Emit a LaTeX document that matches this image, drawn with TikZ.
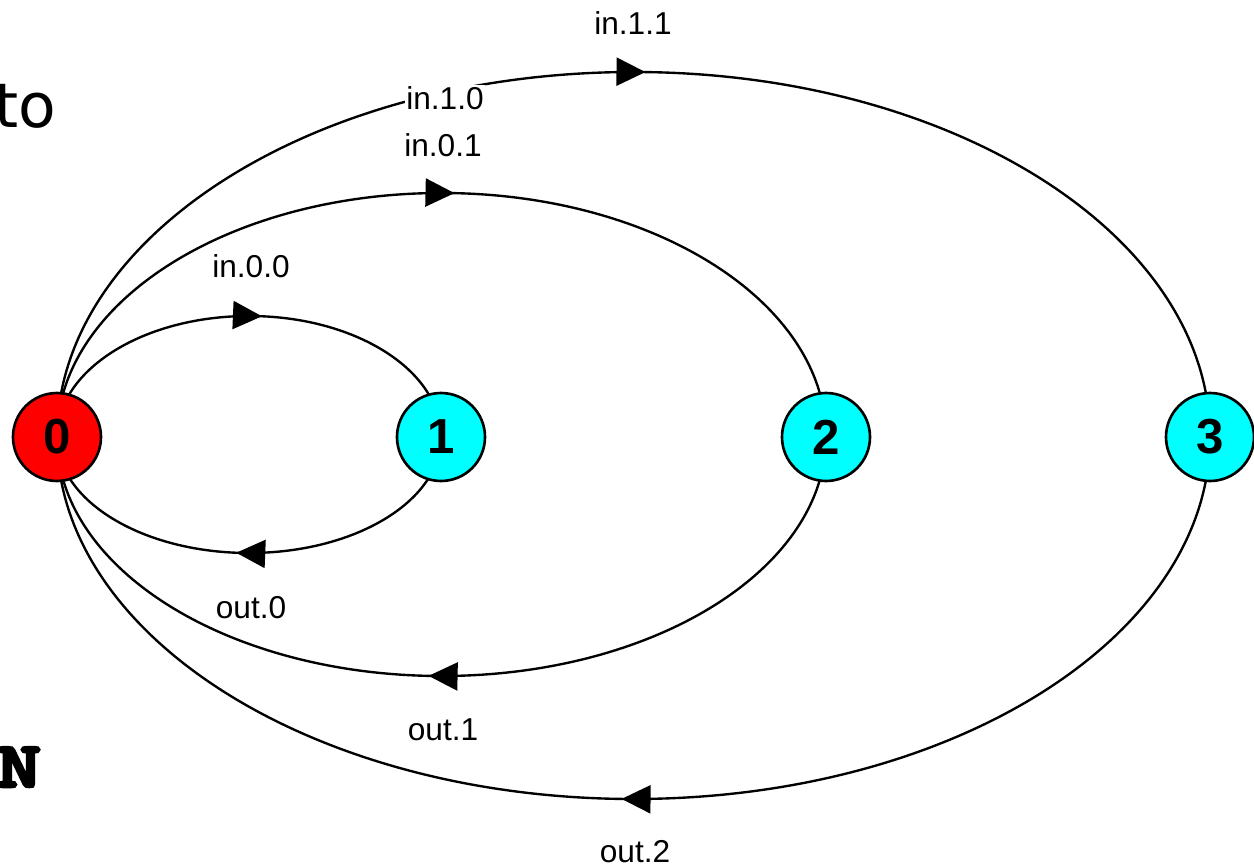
\documentclass[tikz,border=0pt]{standalone}
\usepackage{fontspec}
\setmainfont{Liberation Sans}
\newfontfamily\dvsans{DejaVu Sans}
\newfontfamily\lmttbold{lmmonolt10-bold.otf}[FakeBold=4]
\usetikzlibrary{arrows.meta,decorations.markings,backgrounds}
\definecolor{nodecyan}{RGB}{0,255,255}
\definecolor{nodered}{RGB}{255,0,0}
\begin{document}
\begin{tikzpicture}[
  vertex/.style={circle, draw=black, line width=1.5pt, minimum size=1.76cm, inner sep=0pt, font=\fontsize{28}{30}\selectfont\bfseries},
  link/.style={line width=1.35pt},
  lab/.style={font=\fontsize{18}{20}\selectfont, inner sep=1pt, anchor=base},
  fwd/.style={postaction={decorate}, decoration={markings, mark=at position #1 with {\arrow{Triangle[length=0.58cm,width=0.56cm]}}}},
]
\useasboundingbox (0,0) rectangle (25.08,17.28);
\node[vertex, fill=nodered] (n0) at (1.14,8.54) {0};
\node[vertex, fill=nodecyan] (n1) at (8.82,8.54) {1};
\node[vertex, fill=nodecyan] (n2) at (16.52,8.54) {2};
\node[vertex, fill=nodecyan] (n3) at (24.20,8.54) {3};
\begin{pgfonlayer}{background}
\draw[link, fwd=0.526] (n0.center) arc[start angle=180, end angle=0, x radius=3.84cm, y radius=2.42cm];
\draw[link, fwd=0.513] (n0.center) arc[start angle=180, end angle=0, x radius=7.69cm, y radius=4.88cm];
\draw[link, fwd=0.508] (n0.center) arc[start angle=180, end angle=0, x radius=11.53cm, y radius=7.3cm];
\draw[link, fwd=0.526] (n1.center) arc[start angle=0, end angle=-180, x radius=3.84cm, y radius=2.32cm];
\draw[link, fwd=0.513] (n2.center) arc[start angle=0, end angle=-180, x radius=7.69cm, y radius=4.78cm];
\draw[link, fwd=0.508] (n3.center) arc[start angle=0, end angle=-180, x radius=11.53cm, y radius=7.24cm];
\end{pgfonlayer}
\node[lab] (l00) at (5.02,11.72) {in.0.0};
\node[lab] (l01) at (8.86,14.14) {in.0.1};
\node[lab, fill=white] (l10) at (8.90,15.08) {in.1.0};
\node[lab] (l11) at (12.66,16.58) {in.1.1};
\node[lab] (o0) at (5.02,4.92) {out.0};
\node[lab] (o1) at (8.86,2.48) {out.1};
\node[lab] (o2) at (12.70,0.04) {out.2};
\node[anchor=base east, inner sep=0pt, font=\dvsans\fontsize{35}{40}\selectfont] (to) at (1.126,14.72) {to};
\node[anchor=base east, inner sep=0pt, font=\lmttbold\fontsize{37}{40}\selectfont] (N) at (0.83,1.54) {\scalebox{1.3}[1]{N}};
\end{tikzpicture}
\end{document}
